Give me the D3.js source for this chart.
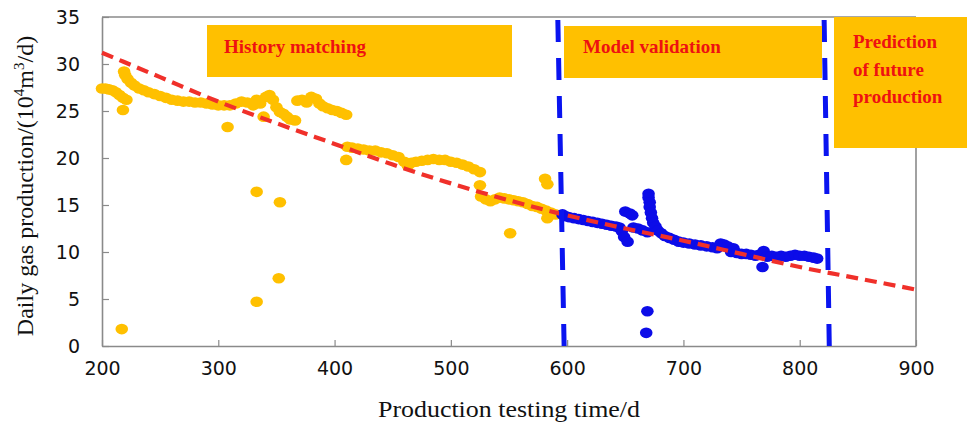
<!DOCTYPE html>
<html><head><meta charset="utf-8">
<script src="https://cdn.jsdelivr.net/npm/d3@7"></script>
<style>html,body{margin:0;padding:0;background:#fff;}svg{display:block;}</style>
</head><body>
<script>
// ---- data ----
const historyX = [200,203,206,209,212,215,218,221,218,217,
  219,220,222,225,228,232,236,240,245,250,255,260,265,270,275,280,285,290,295,300,305,310,
  308,315,320,325,330,333,336,339,341,344,347,350,353,356,359,362,366,
  368,372,376,380,384,387,390,394,398,402,406,410,
  333,353,352,333,410,
  411,415,420,425,430,435,440,445,450,455,460,463,466,470,475,480,485,490,495,500,505,510,515,520,525,
  525,526,530,534,538,542,546,550,554,558,562,566,570,574,578,582,586,590,
  551,583,581,583];
const historyY = [27.4,27.4,27.3,27.2,27.0,26.7,26.4,26.2,25.1,1.8,
  29.2,28.8,28.4,28.0,27.7,27.4,27.2,27.0,26.8,26.6,26.4,26.2,26.1,26.0,26.0,25.9,25.9,25.8,25.7,25.6,25.6,25.6,
  23.3,25.8,26.0,25.9,25.6,26.2,25.8,24.4,26.5,26.7,26.2,25.4,24.9,24.7,24.4,24.1,24.0,
  26.1,26.2,25.9,26.5,26.3,25.8,25.5,25.3,25.1,25.0,24.8,24.6,
  16.4,15.3,7.2,4.7,19.8,
  21.2,21.1,21.0,20.9,20.8,20.8,20.6,20.5,20.3,20.1,19.6,19.2,19.5,19.6,19.7,19.8,19.9,19.8,19.8,19.6,19.5,19.3,19.1,18.8,18.5,
  17.1,15.9,15.6,15.4,15.6,15.8,15.7,15.6,15.5,15.4,15.3,15.1,14.9,14.8,14.6,14.4,14.2,14.0,
  12.0,13.6,17.8,17.2];
const validX = [596,599,602,606,610,614,618,622,626,630,634,638,642,645,
  647,649,652,650,654,656,657,661,665,669,
  670,670,671,671,672,673,674,676,678,681,684,688,692,696,700,705,710,715,720,725,729,
  732,735,738,741,743,746,750,754,758,762,765,768,769,772,776,780,784,788,792,796,800,804,808,812,815,
  669,668];
const validY = [14.0,13.8,13.7,13.6,13.5,13.4,13.3,13.2,13.1,13.0,12.9,12.8,12.7,12.6,
  12.2,11.6,11.1,14.3,14.1,13.9,12.6,12.5,12.3,12.1,
  16.2,15.8,15.3,14.8,14.2,13.6,13.1,12.7,12.3,12.0,11.7,11.5,11.3,11.1,11.0,10.9,10.8,10.7,10.6,10.5,10.4,
  10.9,10.8,10.6,10.0,10.4,9.9,9.8,9.8,9.7,9.6,9.7,8.4,10.1,9.5,9.6,9.5,9.6,9.5,9.6,9.7,9.6,9.6,9.5,9.4,9.3,
  3.7,1.4];
const trendX = [200,250,300,350,400,450,500,550,600,650,700,750,800,850,900];
const trendY = [31.2,28.6,26.0,23.7,21.5,19.3,17.3,15.5,13.9,12.5,11.2,9.8,8.4,7.2,6.0];
const boundaryTopX = [592,821];
const boundaryBottomX = [597.5,825.5];
const xTicks = [200,300,400,500,600,700,800,900];
const yTicks = [0,5,10,15,20,25,30,35];
const phaseLabels = [["History matching"],["Model validation"],["Prediction","of future","production"]];

// ---- chart ----
const W = 967, H = 425;
const m = {left:102, right:51, top:17, bottom:79};
const svg = d3.select("body").append("svg").attr("width",W).attr("height",H);
svg.append("rect").attr("width",W).attr("height",H).attr("fill","#fff");
const x = d3.scaleLinear().domain([200,900]).range([m.left, W-m.right]);
const y = d3.scaleLinear().domain([0,35]).range([H-m.bottom, m.top]);
const gridCol = "#8a8a8a";

// axes (ticks inward)
const xAx = svg.append("g").attr("transform",`translate(0,${H-m.bottom})`)
  .call(d3.axisBottom(x).tickValues(xTicks).tickSizeInner(-6).tickSizeOuter(0).tickPadding(16));
const yAx = svg.append("g").attr("transform",`translate(${m.left},0)`)
  .call(d3.axisLeft(y).tickValues(yTicks).tickSizeInner(-7).tickSizeOuter(0).tickPadding(22));
[xAx,yAx].forEach(g=>{
  g.select(".domain").attr("stroke",gridCol).attr("stroke-width",1.6);
  g.selectAll(".tick line").attr("stroke",gridCol).attr("stroke-width",1.2);
  g.selectAll(".tick text").attr("font-family","DejaVu Sans").attr("font-size",19).attr("fill","#111");
});
// top and right frame
svg.append("line").attr("x1",m.left).attr("x2",W-m.right).attr("y1",m.top).attr("y2",m.top).attr("stroke",gridCol).attr("stroke-width",1.6);
svg.append("line").attr("x1",W-m.right).attr("x2",W-m.right).attr("y1",m.top).attr("y2",H-m.bottom).attr("stroke",gridCol).attr("stroke-width",1.6);

// points
const orange = "#FFC000", blue = "#0c0ce8";
svg.append("g").selectAll("ellipse").data(historyX.map((d,i)=>[d,historyY[i]])).join("ellipse")
  .attr("cx",d=>x(d[0])).attr("cy",d=>y(d[1])).attr("rx",6.3).attr("ry",5.3).attr("fill",orange);
svg.append("g").selectAll("ellipse").data(validX.map((d,i)=>[d,validY[i]])).join("ellipse")
  .attr("cx",d=>x(d[0])).attr("cy",d=>y(d[1])).attr("rx",6.3).attr("ry",5.3).attr("fill",blue);

// trend line
svg.append("path").datum(trendX.map((d,i)=>[d,trendY[i]]))
  .attr("d", d3.line().x(d=>x(d[0])).y(d=>y(d[1])).curve(d3.curveMonotoneX))
  .attr("fill","none").attr("stroke","#f0302a").attr("stroke-width",4.2).attr("stroke-dasharray","12,7");

// boundaries
boundaryTopX.forEach((bx,i)=>{
  svg.append("line").attr("x1",x(bx)).attr("y1",m.top+3).attr("x2",x(boundaryBottomX[i])).attr("y2",H-m.bottom+6)
    .attr("stroke","#0a14f0").attr("stroke-width",5).attr("stroke-dasharray","22,16");
});

// phase boxes
const boxes = [
  {x0:207,x1:512,y0:25,y1:77,tx:224,ty:[53]},
  {x0:564,x1:822,y0:26,y1:78,tx:583,ty:[53]},
  {x0:834,x1:967,y0:17,y1:148,tx:853,ty:[48,76,103]}
];
boxes.forEach((b,i)=>{
  svg.append("rect").attr("x",b.x0).attr("y",b.y0).attr("width",b.x1-b.x0).attr("height",b.y1-b.y0).attr("fill",orange);
  phaseLabels[i].forEach((t,j)=>{
    svg.append("text").attr("x",b.tx).attr("y",b.ty[j]).text(t)
      .attr("font-family","Liberation Serif").attr("font-weight","bold").attr("font-size",19).attr("fill","#ee1111");
  });
});

// axis titles
svg.append("text").attr("x",509).attr("y",417).attr("text-anchor","middle")
  .attr("font-family","Liberation Serif").attr("font-size",24).attr("fill","#111")
  .attr("textLength",262).attr("lengthAdjust","spacingAndGlyphs")
  .text("Production testing time/d");
const yt = svg.append("text").attr("transform","translate(33,186) rotate(-90)").attr("text-anchor","middle")
  .attr("font-family","Liberation Serif").attr("font-size",24).attr("fill","#111");
yt.append("tspan").text("Daily  gas production/(10");
yt.append("tspan").attr("dy",-9).attr("font-size",15).text("4");
yt.append("tspan").attr("dy",9).text("m");
yt.append("tspan").attr("dy",-9).attr("font-size",15).text("3");
yt.append("tspan").attr("dy",9).text("/d)");
</script>
</body></html>
